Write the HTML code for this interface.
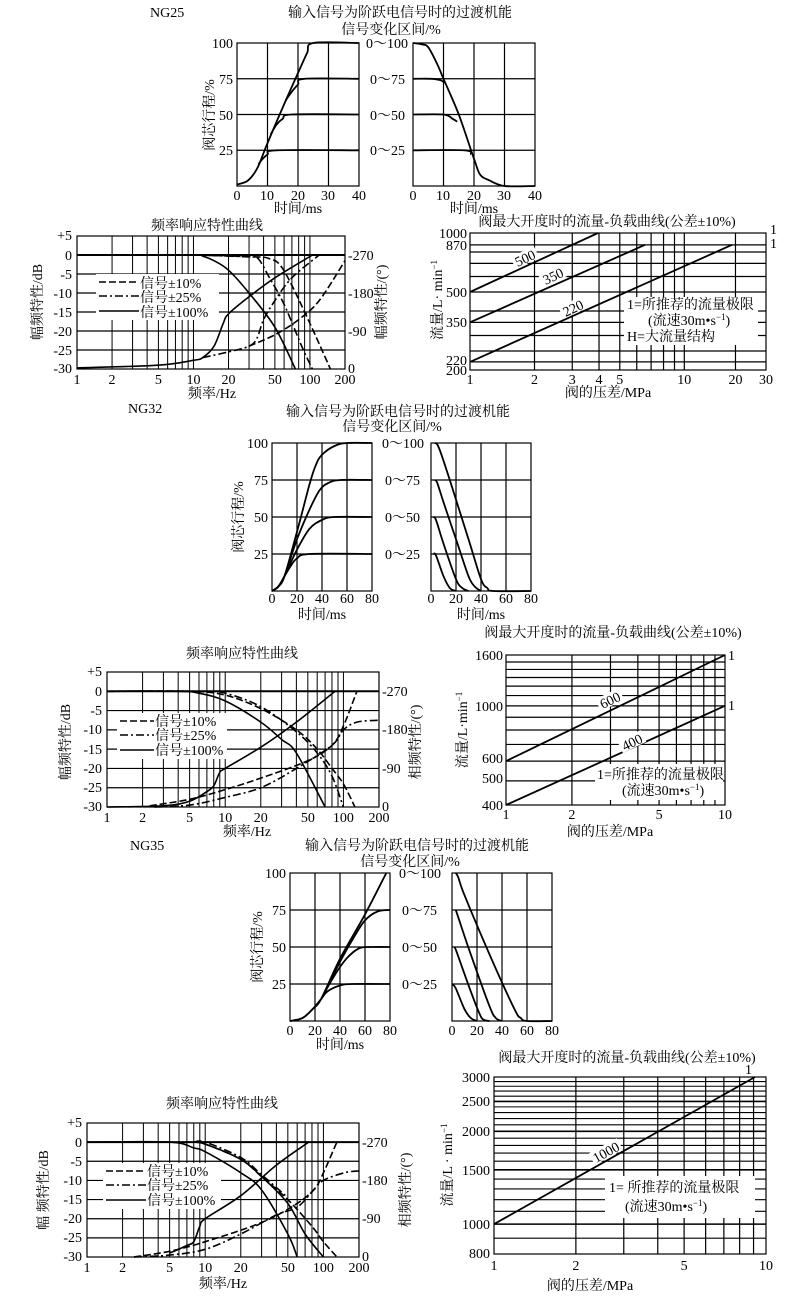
<!DOCTYPE html>
<html><head><meta charset="utf-8">
<style>
html,body{margin:0;padding:0;background:#fff;}
svg{display:block;}
text{font-family:"Liberation Serif","Noto Serif CJK SC",serif;font-size:14px;fill:#000;}
.c{font-family:"Liberation Serif","Noto Serif CJK SC","Noto Sans CJK SC",serif;}
</style></head>
<body>
<svg id="s" xmlns="http://www.w3.org/2000/svg" width="810" height="1298" viewBox="0 0 810 1298">
<g id="g"></g>
<g id="t">
<text x="150" y="17">NG25</text>
<text class="c" x="400" y="17" text-anchor="middle">输入信号为阶跃电信号时的过渡机能</text>
<text class="c" x="391" y="34" text-anchor="middle">信号变化区间/%</text>
<text x="233" y="48" text-anchor="end">100</text>
<text x="233" y="84" text-anchor="end">75</text>
<text x="233" y="120" text-anchor="end">50</text>
<text x="233" y="155" text-anchor="end">25</text>
<text x="366" y="48">0～100</text>
<text x="370" y="84">0～75</text>
<text x="370" y="120">0～50</text>
<text x="370" y="155">0～25</text>
<text class="c" x="214" y="115" text-anchor="middle" transform="rotate(-90 214 115)">阀芯行程/%</text>
<text x="237" y="200" text-anchor="middle">0</text><text x="267" y="200" text-anchor="middle">10</text><text x="298" y="200" text-anchor="middle">20</text><text x="328" y="200" text-anchor="middle">30</text><text x="359" y="200" text-anchor="middle">40</text>
<text x="413" y="200" text-anchor="middle">0</text><text x="443" y="200" text-anchor="middle">10</text><text x="474" y="200" text-anchor="middle">20</text><text x="504" y="200" text-anchor="middle">30</text><text x="535" y="200" text-anchor="middle">40</text>
<text class="c" x="298" y="213" text-anchor="middle">时间/ms</text>
<text class="c" x="474" y="213" text-anchor="middle">时间/ms</text>

<text class="c" x="207" y="230" text-anchor="middle">频率响应特性曲线</text>
<text x="72" y="240" text-anchor="end">+5</text>
<text x="72" y="260" text-anchor="end">0</text>
<text x="72" y="279" text-anchor="end">-5</text>
<text x="72" y="298" text-anchor="end">-10</text>
<text x="72" y="317" text-anchor="end">-15</text>
<text x="72" y="336" text-anchor="end">-20</text>
<text x="72" y="355" text-anchor="end">-25</text>
<text x="72" y="373" text-anchor="end">-30</text>
<text x="348" y="260">-270</text><text x="348" y="298">-180</text><text x="348" y="336">-90</text><text x="348" y="373">0</text>
<text class="c" x="42" y="302" text-anchor="middle" transform="rotate(-90 42 302)">幅频特性/dB</text>
<text class="c" x="386" y="302" text-anchor="middle" transform="rotate(-90 386 302)">幅频特性/(°)</text>
<text class="c" x="212" y="398" text-anchor="middle">频率/Hz</text>
<text class="c" x="140" y="288">信号±10%</text>
<text class="c" x="140" y="302">信号±25%</text>
<text class="c" x="140" y="317">信号±100%</text>

<text class="c" x="607" y="226" text-anchor="middle">阀最大开度时的流量-负载曲线(公差±10%)</text>
<text x="467" y="238" text-anchor="end">1000</text>
<text x="467" y="250" text-anchor="end">870</text>
<text x="467" y="297" text-anchor="end">500</text>
<text x="467" y="327" text-anchor="end">350</text>
<text x="467" y="365" text-anchor="end">220</text>
<text x="467" y="375" text-anchor="end">200</text>
<text x="770" y="234">1</text><text x="770" y="248">1</text>
<text class="c" x="442" y="300" text-anchor="middle" transform="rotate(-90 442 300)">流量/L· min<tspan dy="-5" font-size="9">−1</tspan></text>
<text class="c" x="608" y="397" text-anchor="middle">阀的压差/MPa</text>
<text class="c" x="627" y="309">1=所推荐的流量极限</text>
<text class="c" x="648" y="325">(流速30m•s<tspan dy="-5" font-size="9">−1</tspan><tspan dy="5">)</tspan></text>
<text class="c" x="627" y="341">H=大流量结构</text>

<text x="128" y="413">NG32</text>
<text class="c" x="398" y="416" text-anchor="middle">输入信号为阶跃电信号时的过渡机能</text>
<text class="c" x="392" y="431" text-anchor="middle">信号变化区间/%</text>
<text x="268" y="448" text-anchor="end">100</text>
<text x="268" y="485" text-anchor="end">75</text>
<text x="268" y="522" text-anchor="end">50</text>
<text x="268" y="559" text-anchor="end">25</text>
<text x="382" y="448">0～100</text>
<text x="385" y="485">0～75</text>
<text x="385" y="522">0～50</text>
<text x="385" y="559">0～25</text>
<text class="c" x="243" y="517" text-anchor="middle" transform="rotate(-90 243 517)">阀芯行程/%</text>
<text x="272" y="603" text-anchor="middle">0</text><text x="297" y="603" text-anchor="middle">20</text><text x="322" y="603" text-anchor="middle">40</text><text x="347" y="603" text-anchor="middle">60</text><text x="372" y="603" text-anchor="middle">80</text>
<text x="431" y="603" text-anchor="middle">0</text><text x="456" y="603" text-anchor="middle">20</text><text x="481" y="603" text-anchor="middle">40</text><text x="506" y="603" text-anchor="middle">60</text><text x="531" y="603" text-anchor="middle">80</text>
<text class="c" x="322" y="619" text-anchor="middle">时间/ms</text>
<text class="c" x="481" y="619" text-anchor="middle">时间/ms</text>

<text class="c" x="242" y="658" text-anchor="middle">频率响应特性曲线</text>
<text x="102" y="676" text-anchor="end">+5</text>
<text x="102" y="696" text-anchor="end">0</text>
<text x="102" y="715" text-anchor="end">-5</text>
<text x="102" y="734" text-anchor="end">-10</text>
<text x="102" y="754" text-anchor="end">-15</text>
<text x="102" y="773" text-anchor="end">-20</text>
<text x="102" y="792" text-anchor="end">-25</text>
<text x="102" y="811" text-anchor="end">-30</text>
<text x="382" y="696">-270</text><text x="382" y="734">-180</text><text x="382" y="773">-90</text><text x="382" y="811">0</text>
<text class="c" x="70" y="742" text-anchor="middle" transform="rotate(-90 70 742)">幅频特性/dB</text>
<text class="c" x="420" y="742" text-anchor="middle" transform="rotate(-90 420 742)">相频特性/(°)</text>
<text class="c" x="247" y="836" text-anchor="middle">频率/Hz</text>
<text class="c" x="155" y="726">信号±10%</text>
<text class="c" x="155" y="740">信号±25%</text>
<text class="c" x="155" y="755">信号±100%</text>

<text class="c" x="613" y="637" text-anchor="middle">阀最大开度时的流量-负载曲线(公差±10%)</text>
<text x="503" y="660" text-anchor="end">1600</text>
<text x="503" y="711" text-anchor="end">1000</text>
<text x="503" y="763" text-anchor="end">600</text>
<text x="503" y="783" text-anchor="end">500</text>
<text x="503" y="810" text-anchor="end">400</text>
<text x="728" y="660">1</text><text x="728" y="710">1</text>
<text class="c" x="467" y="730" text-anchor="middle" transform="rotate(-90 467 730)">流量/L·min<tspan dy="-5" font-size="9">−1</tspan></text>
<text class="c" x="610" y="836" text-anchor="middle">阀的压差/MPa</text>
<text class="c" x="597" y="779">1=所推荐的流量极限</text>
<text class="c" x="622" y="795">(流速30m•s<tspan dy="-5" font-size="9">−1</tspan><tspan dy="5">)</tspan></text>

<text x="130" y="850">NG35</text>
<text class="c" x="417" y="850" text-anchor="middle">输入信号为阶跃电信号时的过渡机能</text>
<text class="c" x="410" y="866" text-anchor="middle">信号变化区间/%</text>
<text x="286" y="878" text-anchor="end">100</text>
<text x="286" y="915" text-anchor="end">75</text>
<text x="286" y="952" text-anchor="end">50</text>
<text x="286" y="989" text-anchor="end">25</text>
<text x="399" y="878">0～100</text>
<text x="402" y="915">0～75</text>
<text x="402" y="952">0～50</text>
<text x="402" y="989">0～25</text>
<text class="c" x="262" y="947" text-anchor="middle" transform="rotate(-90 262 947)">阀芯行程/%</text>
<text x="290" y="1035" text-anchor="middle">0</text><text x="315" y="1035" text-anchor="middle">20</text><text x="340" y="1035" text-anchor="middle">40</text><text x="365" y="1035" text-anchor="middle">60</text><text x="390" y="1035" text-anchor="middle">80</text>
<text x="452" y="1035" text-anchor="middle">0</text><text x="477" y="1035" text-anchor="middle">20</text><text x="502" y="1035" text-anchor="middle">40</text><text x="527" y="1035" text-anchor="middle">60</text><text x="552" y="1035" text-anchor="middle">80</text>
<text class="c" x="340" y="1049" text-anchor="middle">时间/ms</text>

<text class="c" x="222" y="1108" text-anchor="middle">频率响应特性曲线</text>
<text x="82" y="1127" text-anchor="end">+5</text>
<text x="82" y="1147" text-anchor="end">0</text>
<text x="82" y="1166" text-anchor="end">-5</text>
<text x="82" y="1185" text-anchor="end">-10</text>
<text x="82" y="1204" text-anchor="end">-15</text>
<text x="82" y="1223" text-anchor="end">-20</text>
<text x="82" y="1242" text-anchor="end">-25</text>
<text x="82" y="1261" text-anchor="end">-30</text>
<text x="362" y="1147">-270</text><text x="362" y="1185">-180</text><text x="362" y="1223">-90</text><text x="362" y="1261">0</text>
<text class="c" x="48" y="1190" text-anchor="middle" transform="rotate(-90 48 1190)">幅 频特性/dB</text>
<text class="c" x="410" y="1190" text-anchor="middle" transform="rotate(-90 410 1190)">相频特性/(°)</text>
<text class="c" x="223" y="1288" text-anchor="middle">频率/Hz</text>
<text class="c" x="147" y="1176">信号±10%</text>
<text class="c" x="147" y="1190">信号±25%</text>
<text class="c" x="147" y="1205">信号±100%</text>

<text class="c" x="627" y="1062" text-anchor="middle">阀最大开度时的流量-负载曲线(公差±10%)</text>
<text x="490" y="1082" text-anchor="end">3000</text>
<text x="490" y="1106" text-anchor="end">2500</text>
<text x="490" y="1136" text-anchor="end">2000</text>
<text x="490" y="1175" text-anchor="end">1500</text>
<text x="490" y="1229" text-anchor="end">1000</text>
<text x="490" y="1258" text-anchor="end">800</text>
<text x="745" y="1074">1</text>
<text class="c" x="452" y="1165" text-anchor="middle" transform="rotate(-90 452 1165)">流量/L · min<tspan dy="-5" font-size="9">−1</tspan></text>
<text class="c" x="590" y="1290" text-anchor="middle">阀的压差/MPa</text>
<text class="c" x="609" y="1192">1= 所推荐的流量极限</text>
<text class="c" x="625" y="1211">(流速30m•s<tspan dy="-5" font-size="9">−1</tspan><tspan dy="5">)</tspan></text>
</g>
</svg>
<script>
var out='';
function ln(x1,y1,x2,y2,w,c){out+='<line x1="'+x1+'" y1="'+y1+'" x2="'+x2+'" y2="'+y2+'" stroke="'+(c||'#000')+'" stroke-width="'+(w||1)+'"/>';}
function rect(x,y,w,h,f,s){out+='<rect x="'+x+'" y="'+y+'" width="'+w+'" height="'+h+'" fill="'+(f||'none')+'" '+(s?'stroke="#000" stroke-width="1.2"':'')+'/>';}
function txt(x,y,s,a,extra){out+='<text x="'+x+'" y="'+y+'" text-anchor="'+(a||'middle')+'" '+(extra||'')+'>'+s+'</text>';}
function smooth(p,w,dash){
  if(p.length<2)return;
  var d='M'+p[0][0].toFixed(1)+','+p[0][1].toFixed(1);
  for(var i=0;i<p.length-1;i++){
    var p0=p[i-1]||p[i],p1=p[i],p2=p[i+1],p3=p[i+2]||p2;
    var c1x=p1[0]+(p2[0]-p0[0])/6,c1y=p1[1]+(p2[1]-p0[1])/6;
    var c2x=p2[0]-(p3[0]-p1[0])/6,c2y=p2[1]-(p3[1]-p1[1])/6;
    d+='C'+c1x.toFixed(1)+','+c1y.toFixed(1)+' '+c2x.toFixed(1)+','+c2y.toFixed(1)+' '+p2[0].toFixed(1)+','+p2[1].toFixed(1);
  }
  out+='<path d="'+d+'" fill="none" stroke="#000" stroke-width="'+(w||1.6)+'" stroke-linejoin="round" '+(dash?'stroke-dasharray="'+dash+'"':'')+'/>';
}
var DASH='7,3',DD='8,3,2,3';
var lg=Math.log10;

function step(x0,x1,y0,y1,tmax,nt,curves){
  var fx=function(t){return x0+(x1-x0)*t/tmax;},fy=function(v){return y1-(y1-y0)*v/100;};
  for(var i=1;i<nt;i++){var x=x0+(x1-x0)*i/nt;ln(x,y0,x,y1,1.2);}
  [25,50,75].forEach(function(v){ln(x0,fy(v),x1,fy(v),1.2);});
  rect(x0,y0,x1-x0,y1-y0,'none',1);
  curves.forEach(function(c){smooth(c.map(function(q){return [fx(q[0]),fy(q[1])];}),1.8);});
}
step(237,359,43,186,40,4,[
 [[0,1],[3,3],[5,7],[7,14],[10,30],[15,55],[20,79],[23,93],[25,100],[40,100]],
 [[16,60],[18,66],[20,71],[22,75],[40,75]],
 [[11,36],[13,43],[15,47],[18,50],[40,50]],
 [[7,15],[8,18],[10,22],[13,25],[40,25]]]);
step(413,535,43,186,40,4,[
 [[0,100],[3,99],[5,97],[8,85],[10,75],[15,50],[20,19],[22,8],[25,4],[30,0],[40,0]],
 [[0,75],[6,75],[9,74],[10.5,72]],
 [[0,50],[10,50],[13,47],[14.5,45]],
 [[0,25],[17,25],[19,22]]]);
step(272,372,443,591,80,4,[
 [[0,0],[5,3],[10,10],[20,40],[30,72],[35,85],[40,92],[50,98],[60,100],[80,100]],
 [[0,0],[5,3],[10,10],[20,35],[30,55],[38,68],[45,73],[55,75],[80,75]],
 [[0,0],[5,3],[10,10],[20,28],[30,42],[40,48],[50,50],[80,50]],
 [[0,0],[5,3],[10,10],[15,17],[20,22],[30,25],[80,25]]]);
step(431,531,443,591,80,4,[
 [[3,100],[5,99],[8,93],[15,75],[30,35],[40,8],[45,2],[50,0],[80,0]],
 [[3,75],[5,73],[10,60],[20,35],[30,10],[35,3],[40,0]],
 [[2,50],[4,48],[10,32],[20,8],[25,2],[30,0]],
 [[2,25],[4,24],[10,10],[15,2],[20,0]]]);
step(290,390,873,1021,80,4,[
 [[0,0],[10,2],[18,8],[25,15],[40,42],[60,72],[77,100]],
 [[25,15],[40,40],[50,55],[60,68],[70,74],[80,75]],
 [[25,15],[35,30],[45,42],[55,49],[65,50],[80,50]],
 [[0,0],[10,2],[18,8],[25,15],[30,20],[40,24],[50,25],[80,25]]]);
step(452,552,873,1021,80,4,[
 [[3,100],[5,97],[10,85],[30,45],[50,8],[55,2],[60,0],[80,0]],
 [[3,75],[5,70],[15,45],[30,10],[35,2],[40,0]],
 [[2,50],[4,46],[15,20],[22,5],[25,1],[30,0]],
 [[0,25],[3,22],[10,8],[15,2],[20,0]]]);

function freq(x0,x1,y0,y1,curves,leg){
  var fx=function(f){return x0+(x1-x0)*lg(f)/lg(200);},fy=function(d){return y0+(y1-y0)*(5-d)/35;};
  [2,3,4,5,6,7,8,9,10,20,30,40,50,60,70,80,90,100].forEach(function(f){ln(fx(f),y0,fx(f),y1,1);});
  for(var d=-25;d<5;d+=5){ln(x0,fy(d),x1,fy(d),d==0?2:1.2);}
  rect(x0,y0,x1-x0,y1-y0,'none',1);
  rect(leg[0],leg[1],leg[2],leg[3],'#fff');
  var lx=leg[0]+3,lw=leg[4];
  out+='<line x1="'+lx+'" y1="'+(leg[1]+8)+'" x2="'+(lx+lw)+'" y2="'+(leg[1]+8)+'" stroke="#000" stroke-width="1.6" stroke-dasharray="'+DASH+'"/>';
  out+='<line x1="'+lx+'" y1="'+(leg[1]+22)+'" x2="'+(lx+lw)+'" y2="'+(leg[1]+22)+'" stroke="#000" stroke-width="1.6" stroke-dasharray="'+DD+'"/>';
  ln(lx,leg[1]+37,lx+lw,leg[1]+37,1.6);
  curves.forEach(function(c){smooth(c.p.map(function(q){return [fx(q[0]),fy(q[1])];}),1.6,c.t=='d'?DASH:(c.t=='dd'?DD:''));});
  [1,2,5,10,20,50,100,200].forEach(function(f){txt(fx(f),y1+15,f);});
}
freq(77,345,236,369,[
 {t:'s',p:[[1,0],[10,0],[12,-0.3],[15,-1.5],[20,-4],[30,-10],[50,-19],[75,-30]]},
 {t:'dd',p:[[10,0],[30,-0.5],[36,-1],[45,-6],[60,-13],[85,-24],[105,-30]]},
 {t:'d',p:[[10,0],[35,-0.5],[45,-1],[55,-2.5],[70,-8],[100,-18],[150,-30]]},
 {t:'s',p:[[1,-29.7],[5,-29],[10,-27.7],[12,-27],[15,-24],[18,-18],[20,-15.5],[30,-11],[50,-6],[105,0]]},
 {t:'dd',p:[[12,-27],[20,-25.5],[30,-24],[35,-22],[40,-17],[50,-12],[70,-6],[120,0]]},
 {t:'d',p:[[30,-24],[50,-21],[80,-17],[120,-12],[200,-1.5]]}
],[96,274,123,46,40]);
freq(107,379,672,807,[
 {t:'s',p:[[1,0],[4,0],[6,-0.5],[10,-2.5],[20,-8],[30,-12.5],[40,-16],[70,-30]]},
 {t:'d',p:[[1,0],[5,0],[10,-1],[20,-4.5],[40,-10],[60,-15],[80,-20],[100,-24],[125,-30]]},
 {t:'dd',p:[[1,0],[6,0],[10,-0.5],[20,-4],[40,-10.5],[60,-16],[80,-22],[100,-30]]},
 {t:'s',p:[[1,-30],[3,-29.7],[5,-28.5],[7,-26],[8,-24.5],[9,-21],[10,-20],[20,-14.5],[40,-8],[85,0]]},
 {t:'d',p:[[2.3,-29.7],[5,-28],[10,-25.5],[20,-22.5],[50,-18],[80,-14],[100,-9],[130,0]]},
 {t:'dd',p:[[2.5,-30],[5,-29.5],[10,-27.5],[20,-25],[40,-20],[80,-14],[100,-10],[130,-8],[200,-7.5]]}
],[117,713,110,46,34]);
freq(87,359,1123,1257,[
 {t:'s',p:[[1,0],[5,0],[8,-1.5],[10,-2.5],[20,-8],[30,-12.5],[50,-24],[60,-30]]},
 {t:'s',p:[[8,0],[10,-0.5],[20,-4.5],[30,-9],[50,-16],[70,-24],[100,-30]]},
 {t:'d',p:[[8,0],[10,-0.5],[20,-4.5],[30,-9],[50,-15],[80,-22],[100,-26],[130,-30]]},
 {t:'dd',p:[[8,0],[10,0],[20,-4],[30,-8.5],[50,-14.5]]},
 {t:'s',p:[[5,-29],[7,-27],[8,-26],[9,-22],[10,-20],[20,-14],[40,-6],[75,0]]},
 {t:'d',p:[[2.5,-30],[5,-28.5],[10,-26],[30,-21],[60,-16],[85,-12],[100,-8],[130,0]]},
 {t:'dd',p:[[2.5,-30],[5,-29.5],[10,-28],[20,-24],[40,-19],[60,-17],[80,-13],[100,-10],[150,-8],[200,-7.5]]}
],[103,1163,118,46,40]);

(function(){
 var fx=function(f){return f<=10?470+214.3*lg(f):684.3+170*lg(f/10);};
 var fy=function(v){return 233+137*lg(1000/v)/lg(5);};
 [2,3,4,5,6,7,8,9,10,20].forEach(function(f){ln(fx(f),233,fx(f),370,1.2);});
 [870,800,700,600,500,400,350,300,250,220].forEach(function(v){ln(470,fy(v),766,fy(v),1.2);});
 rect(470,233,296,137,'none',1);
 rect(624,297,134,48,'#fff');
 ln(470,fy(500),598,233,1.8);ln(470,fy(350),645,fy(870),1.8);ln(470,fy(220),732,fy(870),1.8);
 [[525,258,'500'],[553,276,'350'],[573,308,'220']].forEach(function(a){
  out+='<rect x="'+(a[0]-13)+'" y="'+(a[1]-7)+'" width="26" height="13" fill="#fff" transform="rotate(-25 '+a[0]+' '+a[1]+')"/>';
  txt(a[0],a[1]+5,a[2],'middle','transform="rotate(-25 '+a[0]+' '+a[1]+')"');});
 [1,2,3,4,5,10,20,30].forEach(function(f){txt(f==30?766:fx(f),384,f);});
})();
(function(){
 var fx=function(f){return 506+219*lg(f);},fy=function(v){return 655+150*lg(1600/v)/lg(4);};
 [2,3,4,5,6,7,8,9].forEach(function(f){ln(fx(f),655,fx(f),805,1.2);});
 [1500,1400,1300,1200,1100,1000,900,800,700,600,500].forEach(function(v){ln(506,fy(v),725,fy(v),1.2);});
 rect(506,655,219,150,'none',1);
 rect(595,764,128,36,'#fff');
 ln(506,fy(600),725,fy(1600),1.8);ln(506,fy(400),725,fy(1000),1.8);
 [[610,700,'600'],[632,742,'400']].forEach(function(a){
  out+='<rect x="'+(a[0]-13)+'" y="'+(a[1]-7)+'" width="26" height="13" fill="#fff" transform="rotate(-26 '+a[0]+' '+a[1]+')"/>';
  txt(a[0],a[1]+5,a[2],'middle','transform="rotate(-26 '+a[0]+' '+a[1]+')"');});
 [1,2,5,10].forEach(function(f){txt(fx(f),819,f);});
})();
(function(){
 var fx=function(f){return 494+272*lg(f);},fy=function(v){return 1077+177*lg(3000/v)/lg(3.75);};
 [2,3,4,5,6,7,8,9].forEach(function(f){ln(fx(f),1077,fx(f),1254,1.2);});
 for(var v=900;v<3000;v+=100){ln(494,fy(v),766,fy(v),v%500==0?1.6:1.1);}
 rect(494,1077,272,177,'none',1);
 rect(605,1176,150,42,'#fff');
 ln(494,fy(1000),755,1077,1.8);
 out+='<rect x="590" y="1145" width="32" height="13" fill="#fff" transform="rotate(-29 606 1152)"/>';
 txt(606,1157,'1000','middle','transform="rotate(-29 606 1152)"');
 [1,2,5,10].forEach(function(f){txt(fx(f),1270,f);});
})();
document.getElementById('g').innerHTML=out;
</script>
</body></html>
